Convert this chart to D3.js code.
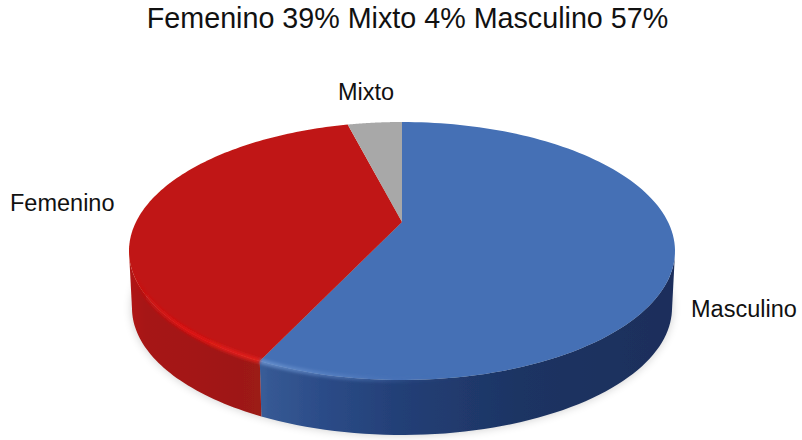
<!DOCTYPE html>
<html><head><meta charset="utf-8">
<script src="https://cdnjs.cloudflare.com/ajax/libs/d3/7.8.5/d3.min.js"></script>
<style>html,body{margin:0;padding:0;background:#fff}svg{display:block}text{font-family:"Liberation Sans",Arial,sans-serif;fill:#111}</style>
</head><body><svg id="c" width="802" height="440"></svg>
<script>
const categories = ["Masculino", "Femenino", "Mixto"];
const shares = [57, 39, 4];
const titleOrder = ["Femenino", "Mixto", "Masculino"];
const topColors = ["#4470b5", "#c01712", "#a8a8a8"];

const svg = d3.select("#c");
const defs = svg.append("defs");
const cx = 402;
// perspective shift of the pie centre inside the top ellipse
const persp = -0.225;
const xTop = d3.scaleLinear().domain([-1, 1]).range([cx - 273, cx + 273]);
const yTop = d3.scaleLinear().domain([-1, 1]).range([122, 380]);
const xBot = d3.scaleLinear().domain([-1, 1]).range([cx - 270, cx + 270]);
const yBot = d3.scaleLinear().domain([-1, 1]).range([181, 435]);

const slices = d3.pie().sort(null).value(d => d)(shares);
const norm = a => {
  const x = Math.sin(a), y = -Math.cos(a), den = 1 + persp * y;
  return [x * Math.sqrt(1 - persp * persp) / den, (y + persp) / den];
};
const line = d3.line();
const arcSamples = (a0, a1) => d3.range(0, 121).map(i => a0 + (a1 - a0) * i / 120);
const rim = (a0, a1, sx, sy) => arcSamples(a0, a1).map(norm).map(p => [sx(p[0]), sy(p[1])]);
const front = (a0, a1) => arcSamples(a0, a1).filter(a => norm(a)[1] >= 0);

function grad(id, stops) {
  const g = defs.append("linearGradient").attr("id", id).attr("gradientUnits", "userSpaceOnUse")
    .attr("x1", 129).attr("x2", 675).attr("y1", 0).attr("y2", 0);
  stops.forEach(s => g.append("stop").attr("offset", s[0]).attr("stop-color", s[1]).attr("stop-opacity", s[2] === undefined ? 1 : s[2]));
}
grad("wall0", [[0.23, "#3b5f9c"], [0.26, "#355893"], [0.36, "#2b4b87"], [0.5, "#233f76"], [0.72, "#1d3463"], [1, "#1a2e5b"]]);
grad("wall1", [[0, "#b01814"], [0.03, "#a61512"], [0.12, "#a31613"], [0.235, "#9c1a15"]]);
grad("wall2", [[0, "#888"], [1, "#888"]]);
grad("hi0", [[0.23, "#6f97d2", 0.8], [0.4, "#5f88c8", 0.45], [0.52, "#4a72b8", 0.1], [0.62, "#4470b5", 0]]);
grad("hi1", [[0.005, "#dc1010", 0], [0.04, "#dc1010", 0.55], [0.1, "#e40c0c", 0.85], [0.235, "#e8221c", 0.8]]);

const blur = (id, s) => defs.append("filter").attr("id", id)
  .attr("x", "-10%").attr("y", "-20%").attr("width", "120%").attr("height", "140%")
  .append("feGaussianBlur").attr("stdDeviation", s);
blur("soft", 1.6);
blur("shadow", 5);
blur("edge", 0.7);

const g = svg.append("g");

// soft ground shadow
g.append("path")
  .attr("d", line(rim(0, 2 * Math.PI, xBot, yBot)) + "Z")
  .attr("fill", "#000").attr("opacity", 0.2).attr("filter", "url(#shadow)");

// side walls
g.selectAll("path.wall").data(slices).join("path").attr("class", "wall")
  .attr("d", d => {
    const as = front(d.startAngle, d.endAngle);
    if (as.length < 2) return null;
    const t = as.map(norm).map(p => [xTop(p[0]), yTop(p[1])]);
    const b = as.map(norm).map(p => [xBot(p[0]), yBot(p[1])]).reverse();
    return line(t.concat(b)) + "Z";
  })
  .attr("fill", (d, i) => `url(#wall${i})`).attr("filter", "url(#edge)");

// top faces
g.selectAll("path.top").data(slices).join("path").attr("class", "top")
  .attr("d", d => {
    const apex = [xTop(norm(0)[0]), yTop(persp)];
    return line([apex].concat(rim(d.startAngle, d.endAngle, xTop, yTop))) + "Z";
  })
  .attr("fill", (d, i) => topColors[i]).attr("filter", "url(#edge)");

// bevel highlight on the front rim
g.append("g").selectAll("path.hi").data(slices.slice(0, 2)).join("path").attr("class", "hi")
  .attr("d", d => {
    const as = front(d.startAngle, d.endAngle);
    return line(as.map(norm).map(p => [xTop(p[0]), yTop(p[1])]));
  })
  .attr("fill", "none").attr("stroke", (d, i) => `url(#hi${i})`).attr("stroke-width", 5).attr("filter", "url(#soft)");

// labels
const labelPos = { Mixto: [338, 100], Femenino: [10, 211], Masculino: [691, 317] };
svg.selectAll("text.lab").data(categories).join("text").attr("class", "lab")
  .attr("x", d => labelPos[d][0]).attr("y", d => labelPos[d][1])
  .attr("font-size", 23.5).text(d => d);

svg.append("text").attr("x", 407.5).attr("y", 28).attr("text-anchor", "middle").attr("font-size", 28.7)
  .text(titleOrder.map(n => `${n} ${shares[categories.indexOf(n)]}%`).join(" "));
</script></body></html>
